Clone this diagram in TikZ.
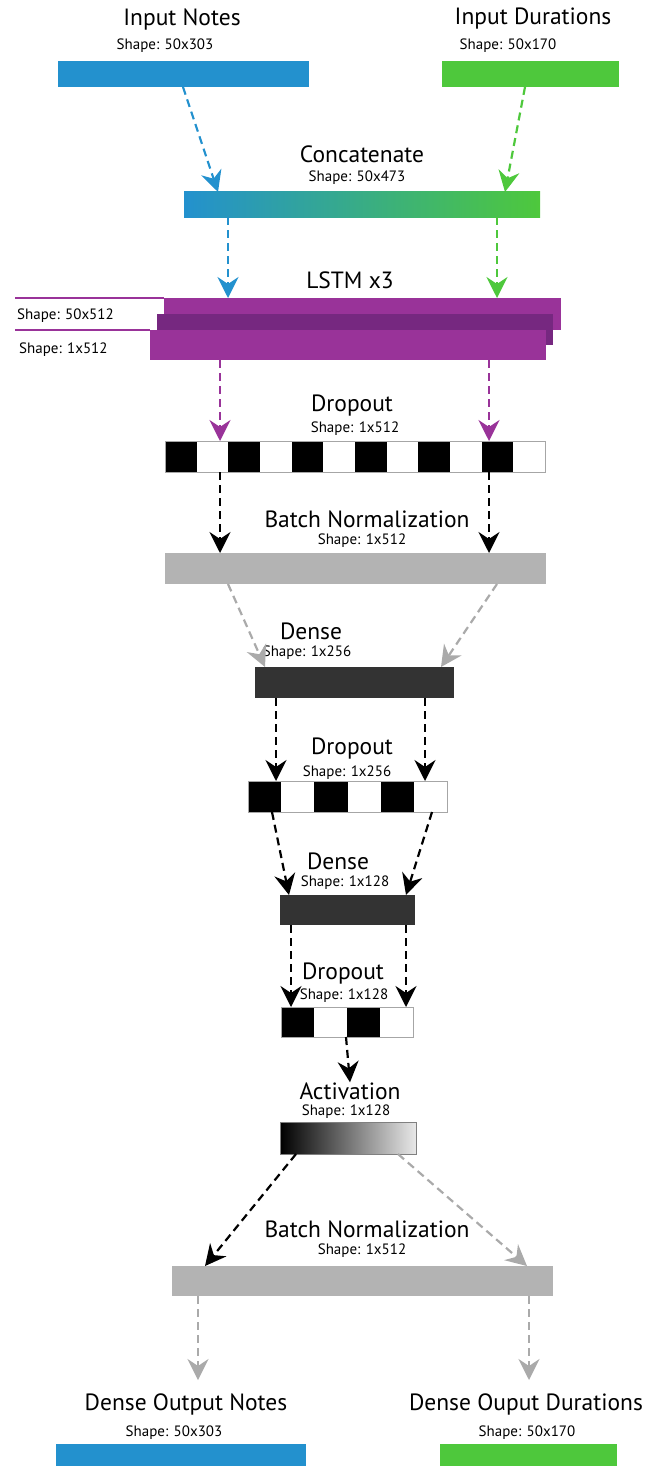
\documentclass[tikz,border=0pt]{standalone}
\usepackage{fontspec}
\setmainfont{PT Sans}
\usetikzlibrary{arrows.meta}
\definecolor{cblue}{RGB}{35,145,206}
\definecolor{cgreen}{RGB}{78,200,60}
\definecolor{cpurple}{RGB}{153,51,153}
\definecolor{cdpurple}{RGB}{118,40,128}
\definecolor{cgrey}{RGB}{179,179,179}
\definecolor{cagrey}{RGB}{170,170,170}
\definecolor{cdark}{RGB}{51,51,51}
\definecolor{clight}{RGB}{232,232,232}
\begin{document}
\begin{tikzpicture}[x=1pt,y=-1pt,
  bar/.style={rectangle,inner sep=0,outer sep=0,anchor=north west},
  ttl/.style={font=\fontsize{23.5}{25}\selectfont,inner sep=0},
  shp/.style={font=\fontsize{15}{17}\selectfont,inner sep=0},
  con/.style={line width=2.2pt,dash pattern=on 8pt off 5pt,
    -{Stealth[length=21pt,width=21pt,inset=7pt]}},
  cellbox/.style={draw=gray!70,line width=0.8pt}
]
\useasboundingbox (0,0) rectangle (651,1466);
% titles
\node[ttl] (t1) at (182,19) {Input Notes};
\node[shp] (s1) at (165,46) {Shape: 50x303};
\node[ttl] (t2) at (533,19) {Input Durations};
\node[shp] (s2) at (508,46) {Shape: 50x170};
\node[ttl] (t3) at (362,154) {Concatenate};
\node[shp] (s3) at (357,178) {Shape: 50x473};
\node[ttl] (t4) at (350,280) {LSTM x3};
\node[ttl] (t5) at (352,406) {Dropout};
\node[shp] (s5) at (355,429) {Shape: 1x512};
\node[ttl] (t6) at (367,519) {Batch Normalization};
\node[shp] (s6) at (362,541) {Shape: 1x512};
\node[ttl] (t7) at (311,631) {Dense};
\node[shp] (s7) at (307,653) {Shape: 1x256};
\node[ttl] (t8) at (352,749) {Dropout};
\node[shp] (s8) at (347,773) {Shape: 1x256};
\node[ttl] (t9) at (338,861) {Dense};
\node[shp] (s9) at (345,883) {Shape: 1x128};
\node[ttl] (t10) at (343,974) {Dropout};
\node[shp] (s10) at (344,996) {Shape: 1x128};
\node[ttl] (t11) at (350,1091) {Activation};
\node[shp] (s11) at (346,1112) {Shape: 1x128};
\node[ttl] (t12) at (367,1229) {Batch Normalization};
\node[shp] (s12) at (362,1251) {Shape: 1x512};
\node[ttl] (t13) at (186,1404) {Dense Output Notes};
\node[shp] (s13) at (174,1433) {Shape: 50x303};
\node[ttl] (t14) at (526,1404) {Dense Ouput Durations};
\node[shp] (s14) at (527,1433) {Shape: 50x170};
% bars
\node[bar,fill=cblue,minimum width=251pt,minimum height=26pt] (in1) at (58,61) {};
\node[bar,fill=cgreen,minimum width=177pt,minimum height=26pt] (in2) at (442,61) {};
\node[bar,left color=cblue,right color=cgreen,minimum width=356pt,minimum height=25pt] (cat) at (184,192) {};
\node[bar,fill=cpurple,minimum width=397pt,minimum height=32pt] (lstm1) at (164,298) {};
\node[bar,fill=cdpurple,minimum width=396pt,minimum height=31pt] (lstm2) at (157,314) {};
\node[bar,fill=cpurple,minimum width=396pt,minimum height=30pt] (lstm3) at (150,330) {};
\draw[cpurple,line width=1.2pt] (lstm1.north west) -- ++(-149,0);
\draw[cpurple,line width=1.2pt] (lstm3.north west) -- ++(-135,0);
\node[shp,anchor=west] (ls1) at (17,316) {Shape: 50x512};
\node[shp,anchor=west] (ls2) at (19,350) {Shape: 1x512};
% dropout 1
\node[bar,fill=white,minimum width=380pt,minimum height=31pt] (drop1) at (165,441) {};
\foreach \i in {0,2,...,10} \fill ([xshift={\i*31.667pt}]drop1.north west) rectangle ++(31.667,31);
\draw[cellbox] (drop1.north west) rectangle (drop1.south east);
\node[bar,fill=cgrey,minimum width=381pt,minimum height=31pt] (bn1) at (165,553) {};
\node[bar,fill=cdark,minimum width=199pt,minimum height=31pt] (dense1) at (255,667) {};
\node[bar,fill=white,minimum width=199pt,minimum height=31pt] (drop2) at (248,781) {};
\foreach \i in {0,2,4} \fill ([xshift={\i*33.167pt}]drop2.north west) rectangle ++(33.167,31);
\draw[cellbox] (drop2.north west) rectangle (drop2.south east);
\node[bar,fill=cdark,minimum width=135pt,minimum height=30pt] (dense2) at (280,895) {};
\node[bar,fill=white,minimum width=132pt,minimum height=30pt] (drop3) at (281,1007) {};
\foreach \i in {0,2} \fill ([xshift={\i*33pt}]drop3.north west) rectangle ++(33,30);
\draw[cellbox] (drop3.north west) rectangle (drop3.south east);
\node[bar,left color=black,right color=clight,draw=gray,line width=0.8pt,minimum width=136pt,minimum height=32pt] (act) at (280,1122) {};
\node[bar,fill=cgrey,minimum width=381pt,minimum height=30pt] (bn2) at (172,1266) {};
\node[bar,fill=cblue,minimum width=250pt,minimum height=30pt] (out1) at (56,1444) {};
\node[bar,fill=cgreen,minimum width=177pt,minimum height=30pt] (out2) at (440,1444) {};
\coordinate (e1) at (198,1380);
\coordinate (e2) at (529,1380);
% connectors
\draw[con,cblue] ([xshift=125pt]in1.south west) -- ([xshift=34pt]cat.north west);
\draw[con,cgreen] ([xshift=83pt]in2.south west) -- ([xshift=321pt]cat.north west);
\draw[con,cblue] ([xshift=44pt]cat.south west) -- ([xshift=64pt]lstm1.north west);
\draw[con,cgreen] ([xshift=313pt]cat.south west) -- ([xshift=333pt]lstm1.north west);
\draw[con,cpurple] ([xshift=70pt]lstm3.south west) -- ([xshift=55pt]drop1.north west);
\draw[con,cpurple] ([xshift=339pt]lstm3.south west) -- ([xshift=324pt]drop1.north west);
\draw[con,black] ([xshift=55pt]drop1.south west) -- ([xshift=55pt]bn1.north west);
\draw[con,black] ([xshift=324pt]drop1.south west) -- ([xshift=324pt]bn1.north west);
\draw[con,cagrey] ([xshift=63pt]bn1.south west) -- ([xshift=10pt]dense1.north west);
\draw[con,cagrey] ([xshift=332pt]bn1.south west) -- ([xshift=186pt]dense1.north west);
\draw[con,black] ([xshift=21pt]dense1.south west) -- ([xshift=28pt]drop2.north west);
\draw[con,black] ([xshift=170pt]dense1.south west) -- ([xshift=177pt]drop2.north west);
\draw[con,black] ([xshift=24pt]drop2.south west) -- ([xshift=9pt]dense2.north west);
\draw[con,black] ([xshift=184pt]drop2.south west) -- ([xshift=126pt]dense2.north west);
\draw[con,black] ([xshift=11pt]dense2.south west) -- ([xshift=10pt]drop3.north west);
\draw[con,black] ([xshift=126pt]dense2.south west) -- ([xshift=125pt]drop3.north west);
\draw[con,black] ([xshift=65pt]drop3.south west) -- (t11.north);
\draw[con,black] ([xshift=16pt]act.south west) -- ([xshift=33pt]bn2.north west);
\draw[con,cagrey] ([xshift=118pt]act.south west) -- ([xshift=355pt]bn2.north west);
\draw[con,cagrey] ([xshift=26pt]bn2.south west) -- (e1);
\draw[con,cagrey] ([xshift=357pt]bn2.south west) -- (e2);
\end{tikzpicture}
\end{document}
